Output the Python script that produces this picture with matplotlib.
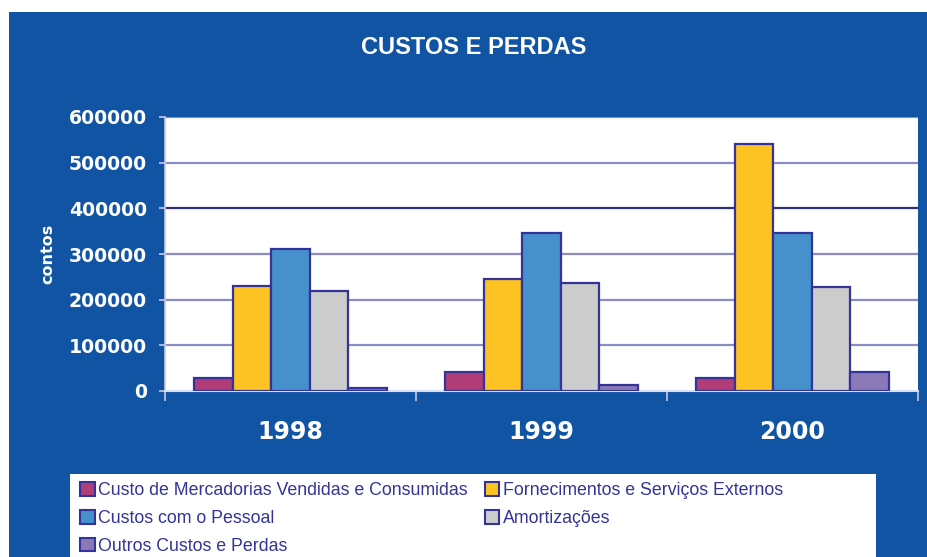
import numpy as np
import matplotlib
matplotlib.use("Agg")
import matplotlib.pyplot as plt
from matplotlib.patches import Rectangle, Patch

# data (contos)
anos = ['1998', '1999', '2000']
series = ['Custo de Mercadorias Vendidas e Consumidas',
          'Fornecimentos e Serviços Externos',
          'Custos com o Pessoal',
          'Amortizações',
          'Outros Custos e Perdas']
mercadorias = [29000, 41500, 29500]
fornecimentos = [231000, 244500, 541500]
pessoal = [311500, 346000, 346000]
amortizacoes = [218500, 236500, 228000]
outros = [7000, 12500, 41500]
yticks = [0, 100000, 200000, 300000, 400000, 500000, 600000]

cores = ['#B03C78', '#FCC322', '#4690CC', '#CCCCCC', '#8B79B7']
bg = '#1254A4'
navy = '#333399'

plt.rcParams['font.family'] = ['Liberation Sans', 'DejaVu Sans']

fig = plt.figure(figsize=(9.28, 5.57), dpi=100)
fig.patch.set_facecolor('white')
# blue panel behind everything
fig.patches.append(Rectangle((9/928, 0), 1, 1 - 12/557, transform=fig.transFigure,
                             facecolor=bg, edgecolor='none', zorder=-10))

ax = fig.add_axes([165/928, 166/557, 753/928, 274/557])
ax.set_zorder(2)
ax.set_facecolor('white')

valores = [mercadorias, fornecimentos, pessoal, amortizacoes, outros]
x = np.arange(len(anos))
w = 0.77 / len(series)
for i, (nome, v) in enumerate(zip(series, valores)):
    ax.bar(x + (i - 2) * w, v, w, color=cores[i], edgecolor=navy,
           linewidth=1.6, label=nome, zorder=3)

ax.set_xlim(-0.5, 2.5)
ax.set_ylim(0, 600000)
ax.set_yticks(yticks)
ax.set_yticklabels([str(t) for t in yticks])
ax.yaxis.grid(True, color='#8C8CC4', linewidth=1.6, zorder=1)
ax.get_ygridlines()[4].set_color('#2E2E7E')
ax.get_ygridlines()[0].set_visible(False)

# ticks at category boundaries, labels at centres
ax.set_xticks([-0.5, 0.5, 1.5, 2.5])
ax.set_xticklabels([])
ax.set_xticks(x, minor=True)
ax.set_xticklabels(anos, minor=True, fontsize=17, fontweight='bold',
                   color='white', family=['DejaVu Sans'])
ax.tick_params(axis='x', which='major', length=7, width=1.2, color='#C8C8E8',
               direction='out')
ax.tick_params(axis='x', which='minor', length=0, pad=21)
ax.tick_params(axis='y', length=4, width=1.2, color='#C8C8E8', pad=9,
               labelsize=13.6, labelcolor='white')
for lab in ax.get_yticklabels():
    lab.set_fontweight('bold')
    lab.set_family(['DejaVu Sans'])

for s in ['top', 'right']:
    ax.spines[s].set_visible(False)
ax.spines['left'].set_color('#C8C8E8')
ax.spines['bottom'].set_color('#DDDDF0')
ax.spines['left'].set_linewidth(1.2)
ax.spines['bottom'].set_linewidth(1.5)

ax.set_ylabel('contos', color='white', fontsize=11.5, fontweight='bold',
              family=['DejaVu Sans'], labelpad=10)

fig.text(474/928, 1 - 47/557, 'CUSTOS E PERDAS', color='white', fontsize=17,
         fontweight='bold', ha='center', va='center')

# legend in a white box at the bottom
fig.patches.append(Rectangle((70/928, 0), 806/928, 83/557, transform=fig.transFigure,
                             facecolor='white', edgecolor='none', zorder=1))
handles = [Patch(facecolor=cores[i], edgecolor=navy, linewidth=1.5, label=series[i])
           for i in range(len(series))]
ordem = [0, 2, 4, 1, 3]
leg = fig.legend([handles[i] for i in ordem], [series[i] for i in ordem],
                 loc='upper left', bbox_to_anchor=(68/928, 1 - 470/557), ncol=2,
                 frameon=False, fontsize=12.8, handlelength=0.8, handleheight=0.8,
                 handletextpad=0.2, columnspacing=0.95, labelspacing=0.6,
                 borderpad=0.2)
leg.set_zorder(5)
for t in leg.get_texts():
    t.set_color(navy)

fig.savefig('out.png', dpi=100, facecolor=fig.get_facecolor())
